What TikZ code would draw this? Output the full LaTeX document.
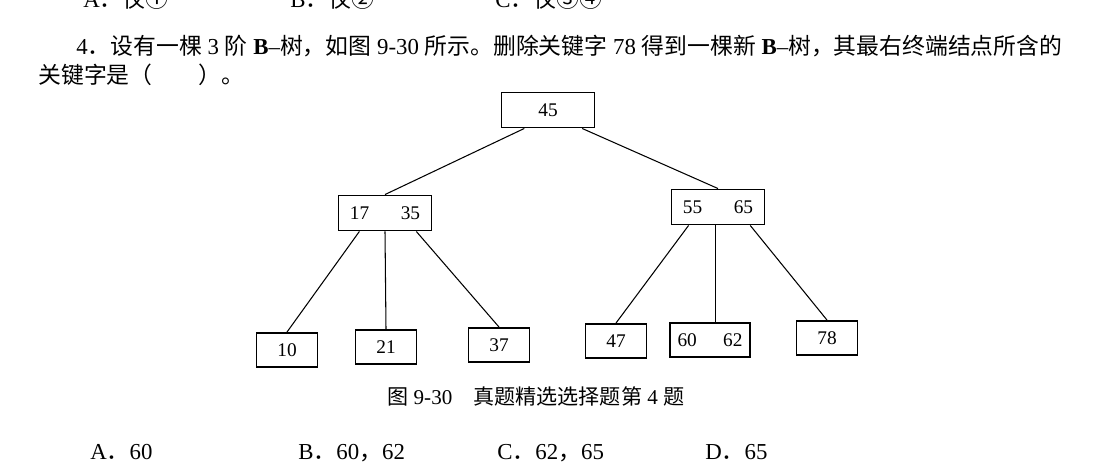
\documentclass[tikz,border=0pt]{standalone}
\usepackage{fontspec}
\setmainfont{Liberation Serif}
\newfontfamily\cjk{Noto Sans CJK SC}
\usetikzlibrary{calc}

\begin{document}
\begin{tikzpicture}[x=0.02cm,y=-0.02cm,
  key/.style={draw,line width=1.1pt,minimum height=0.7cm,inner sep=0pt,font=\fontsize{11}{12}\selectfont},
  inner/.style={key,minimum width=1.86cm},
  leaf/.style={key,minimum width=1.22cm,minimum height=0.68cm},
  link/.style={line width=0.6pt},
  txt/.style={anchor=base west,inner sep=0pt,font=\fontsize{13}{14}\selectfont}]
\useasboundingbox (0,0) rectangle (1120,471);
% question text
\node[txt] (tA) at (83,7) {A{\cjk ．仅①}};
\node[txt] (tB) at (290,7) {B{\cjk ．仅②}};
\node[txt] (tC) at (495,7) {C{\cjk ．仅③④}};
\node[txt] (q1) at (76,54) {4{\cjk ．设有一棵} 3 {\cjk 阶} \textbf{B}–{\cjk 树，如图} 9-30 {\cjk 所示。删除关键字} 78 {\cjk 得到一棵新} \textbf{B}–{\cjk 树，其最右终端结点所含的}};
\node[txt] (q2) at (38,83) {{\cjk 关键字是（\quad\quad ）。}};
% B-tree
\node[inner] (r) at (548,110) {45};
\node[inner] (a) at (385,213) {17\hspace{18pt}35};
\node[inner] (b) at (718,207) {55\hspace{18pt}65};
\node[leaf] (a1) at (287,350) {10};
\node[leaf] (a2) at (386,347) {21};
\node[leaf] (a3) at (499,345) {37};
\node[leaf] (b1) at (616,341) {47};
\node[leaf,minimum width=1.6cm] (b2) at (710,340) {60\hspace{15pt}62};
\node[leaf] (b3) at (827,338) {78};
\draw[link] ($(r.south west)!.25!(r.south east)$) -- (a.north);
\draw[link] ($(r.south west)!.86!(r.south east)$) -- (b.north);
\draw[link] ($(a.south west)!.23!(a.south east)$) -- (a1.north);
\draw[link] (a.south) -- (a2.north);
\draw[link] ($(a.south west)!.83!(a.south east)$) -- (a3.north);
\draw[link] ($(b.south west)!.19!(b.south east)$) -- (b1.north);
\draw[link] ($(b.south west)!.47!(b.south east)$) coordinate (bm) -- (bm |- b2.north);
\draw[link] ($(b.south west)!.84!(b.south east)$) -- (b3.north);
% caption and choices
\node[txt,font=\fontsize{12}{13}\selectfont] (cap) at (387,404) {{\cjk 图} 9-30\quad{\cjk 真题精选选择题第} 4 {\cjk 题}};
\node[txt] (oA) at (90,459) {A{\cjk ．}60};
\node[txt] (oB) at (298,459) {B{\cjk ．}60{\cjk ，}62};
\node[txt] (oC) at (497,459) {C{\cjk ．}62{\cjk ，}65};
\node[txt] (oD) at (705,459) {D{\cjk ．}65};
\end{tikzpicture}
\end{document}
